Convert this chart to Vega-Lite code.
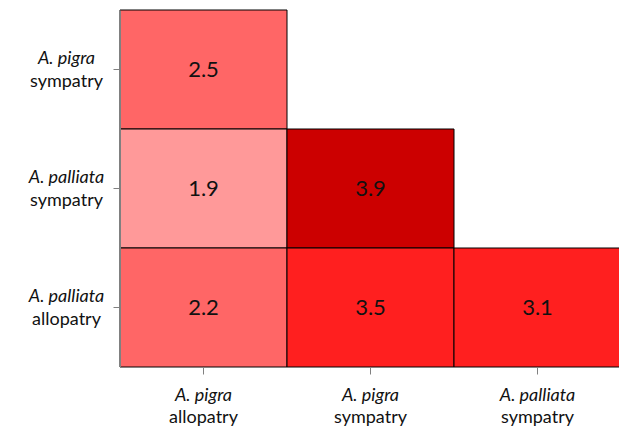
{
  "$schema": "https://vega.github.io/schema/vega-lite/v6.json",
  "width": 501,
  "height": 357,
  "autosize": "none",
  "padding": {"left": 120, "top": 10, "right": 0, "bottom": 60},
  "data": {
    "values": [
      {"col": "A. pigra allopatry", "row": "A. pigra sympatry", "value": 2.5},
      {"col": "A. pigra allopatry", "row": "A. palliata sympatry", "value": 1.9},
      {"col": "A. pigra sympatry", "row": "A. palliata sympatry", "value": 3.9},
      {"col": "A. pigra allopatry", "row": "A. palliata allopatry", "value": 2.2},
      {"col": "A. pigra sympatry", "row": "A. palliata allopatry", "value": 3.5},
      {"col": "A. palliata sympatry", "row": "A. palliata allopatry", "value": 3.1}
    ]
  },
  "layer": [
    {
      "mark": {"type": "rect", "stroke": "black", "strokeWidth": 1},
      "encoding": {
        "x": {
          "field": "col", "type": "nominal",
          "sort": ["A. pigra allopatry", "A. pigra sympatry", "A. palliata sympatry"],
          "scale": {"paddingInner": 0, "paddingOuter": 0},
          "axis": {
            "orient": "bottom", "title": null,
            "labelExpr": "split(datum.label, ' ')[0] + ' ' + split(datum.label, ' ')[1]",
            "labelFontStyle": "italic", "labelPadding": 21, "labelAngle": 0
          }
        },
        "y": {
          "field": "row", "type": "nominal",
          "sort": ["A. pigra sympatry", "A. palliata sympatry", "A. palliata allopatry"],
          "scale": {"paddingInner": 0, "paddingOuter": 0},
          "axis": {
            "orient": "left", "title": null,
            "labelExpr": "split(datum.label, ' ')[0] + ' ' + split(datum.label, ' ')[1]",
            "labelFontStyle": "italic", "labelAlign": "center", "labelPadding": 47, "labelOffset": -11
          }
        },
        "color": {
          "field": "value", "type": "quantitative",
          "scale": {"type": "threshold", "domain": [2, 3, 3.7], "range": ["#FF9999", "#FF6666", "#FF1F1F", "#CC0000"]},
          "legend": null
        }
      }
    },
    {
      "mark": {"type": "text", "fontSize": 22, "color": "#111111", "font": "Lato"},
      "encoding": {
        "x": {
          "field": "col", "type": "nominal",
          "sort": ["A. pigra allopatry", "A. pigra sympatry", "A. palliata sympatry"],
          "scale": {"paddingInner": 0, "paddingOuter": 0},
          "axis": {
            "orient": "bottom", "title": null, "domain": false, "ticks": false,
            "labelExpr": "split(datum.label, ' ')[2]",
            "labelPadding": 50, "labelAngle": 0
          }
        },
        "y": {
          "field": "row", "type": "nominal",
          "sort": ["A. pigra sympatry", "A. palliata sympatry", "A. palliata allopatry"],
          "scale": {"paddingInner": 0, "paddingOuter": 0},
          "axis": {
            "orient": "left", "title": null, "domain": false, "ticks": false,
            "labelExpr": "split(datum.label, ' ')[2]",
            "labelAlign": "center", "labelPadding": 54, "labelOffset": 12
          }
        },
        "text": {"field": "value", "type": "quantitative", "format": ".1f"}
      }
    }
  ],
  "resolve": {"axis": {"x": "independent", "y": "independent"}},
  "config": {
    "view": {"stroke": null},
    "axis": {
      "grid": false,
      "domainColor": "#808080",
      "tickColor": "#808080",
      "tickSize": 7,
      "labelFont": "Lato",
      "labelFontSize": 18,
      "labelColor": "#111111",
      "labelBaseline": "middle"
    }
  }
}
